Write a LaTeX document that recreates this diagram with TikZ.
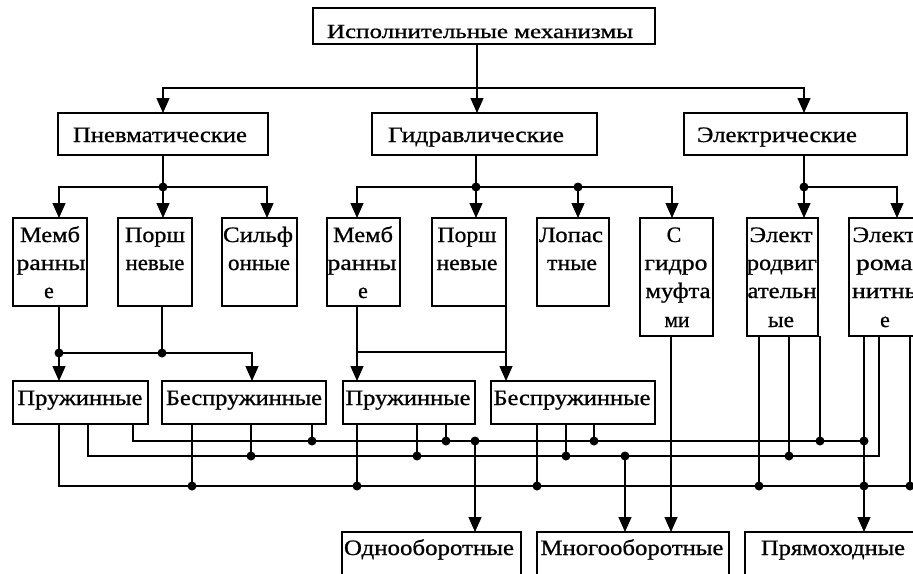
\documentclass[tikz,border=0pt]{standalone}
\usepackage{fontspec}
\setmainfont{Liberation Serif}[FakeBold=0.8]
\usetikzlibrary{arrows.meta}

% a word set at its own height, stretched across a given width
\newcommand\stretchto[2]{\resizebox{#1pt}{\height}{#2}}
% box: name, left, top, width, height
\newcommand\bx[5]{\node[box, minimum width=#4pt, minimum height=#5pt] (#1) at (#2,#3) {};}
% text line: name, centre x, baseline y, width, text
\newcommand\tx[5]{\node[lbl] (#1) at (#2,#3) {\stretchto{#4}{#5}};}
% text line at its natural width: name, centre x, baseline y, text
\newcommand\txn[4]{\node[lbl] (#1) at (#2,#3) {#4};}
% junction dot on a bus, fed from the bottom of a box: name, x, y, box
\newcommand\tap[4]{\node[jdot] (#1) at (#2,#3) {}; \draw[wire] (#4.south -| #1) -- (#1.center);}

\tikzset{
  box/.style={draw, line width=1.3pt, inner sep=0pt, outer sep=0pt, anchor=north west},
  lbl/.style={inner sep=0pt, outer sep=0pt, anchor=base, font=\fontsize{22}{26}\selectfont},
  toplbl/.style={lbl, font=\fontsize{20}{24}\selectfont},
  wire/.style={line width=1.3pt},
  arr/.style={wire, -{Triangle[width=13pt,length=15pt]}},
  jdot/.style={circle, fill, draw=none, inner sep=0pt, minimum size=9pt},
}

\begin{document}
\begin{tikzpicture}[x=1pt, y=-1pt]
\useasboundingbox (0,0) rectangle (913,573);
\clip (0,0) rectangle (913,573);

% ---- boxes ----
\bx{top}{313}{8}{342}{36}
\bx{pn}{58}{113}{210}{42}
\bx{gd}{372}{113}{225}{42}
\bx{el}{684}{113}{223}{42}

\bx{m1}{13}{218}{74}{88}
\bx{p1}{118}{218}{74}{88}
\bx{s1}{222}{218}{75}{88}
\bx{m2}{327}{218}{73}{88}
\bx{p2}{432}{218}{74}{88}
\bx{lo}{537}{218}{72}{88}
\bx{sg}{640}{218}{73}{118}
\bx{ed}{747}{218}{71}{118}
\bx{em}{849}{218}{72}{118}

\bx{pr1}{13}{381}{135}{43}
\bx{bp1}{162}{381}{164}{43}
\bx{pr2}{343}{381}{132}{43}
\bx{bp2}{491}{381}{164}{43}

\bx{od}{342}{532}{179}{60}
\bx{mn}{537}{532}{192}{60}
\bx{pm}{745}{532}{200}{60}

% ---- texts ----
\node[toplbl] (ttop) at (480,38) {\stretchto{306}{Исполнительные механизмы}};
\tx{tpn}{160}{142}{174}{Пневматические}
\tx{tgd}{476}{142}{176}{Гидравлические}
\tx{tel}{777}{142}{160}{Электрические}

\tx{m1a}{50}{242}{60}{Мемб}
\tx{m1b}{51}{270}{69}{ранны}
\txn{m1c}{49}{298}{е}
\tx{p1a}{155}{242}{60}{Порш}
\tx{p1b}{155}{270}{59}{невые}
\tx{s1a}{258}{242}{70}{Сильф}
\tx{s1b}{259}{270}{62}{онные}
\tx{m2a}{363}{242}{60}{Мемб}
\tx{m2b}{362}{270}{69}{ранны}
\txn{m2c}{363}{298}{е}
\tx{p2a}{467}{242}{59}{Порш}
\tx{p2b}{467}{270}{61}{невые}
\tx{loa}{571}{242}{64}{Лопас}
\tx{lob}{572}{270}{50}{тные}
\txn{sga}{674}{242}{С}
\tx{sgb}{676}{270}{63}{гидро}
\tx{sgc}{678}{298}{65}{муфта}
\tx{sgd}{677}{327}{25}{ми}
\tx{eda}{781}{242}{63}{Элект}
\tx{edb}{782}{270}{70}{родвиг}
\tx{edc}{782}{298}{69}{ательн}
\tx{edd}{781}{327}{26}{ые}
\tx{ema}{884}{242}{63}{Элект}
\tx{emb}{890}{270}{68}{ромаг}
\tx{emc}{887}{298}{70}{нитны}
\txn{emd}{885}{327}{е}

\tx{tpr1}{80}{405}{125}{Пружинные}
\tx{tbp1}{244}{405}{156}{Беспружинные}
\tx{tpr2}{408}{405}{125}{Пружинные}
\tx{tbp2}{572}{405}{157}{Беспружинные}

\tx{tod}{429}{555}{170}{Однооборотные}
\tx{tmn}{632}{555}{183}{Многооборотные}
\tx{tpm}{833}{555}{144}{Прямоходные}

% ---- first split: kinds of drive ----
\coordinate (j0) at (477,88);
\coordinate (j0l) at (163,88);
\coordinate (j0r) at (804,88);
\draw[arr] (top.south -| j0) -- (j0 |- gd.north);
\draw[arr] (j0) -- (j0l) -- (j0l |- pn.north);
\draw[arr] (j0) -- (j0r) -- (j0r |- el.north);

% ---- pneumatic designs ----
\node[jdot] (k1) at (163,187) {};
\coordinate (k1l) at (59,187);
\coordinate (k1r) at (267,187);
\draw[wire] (pn.south -| k1) -- (k1.center);
\draw[arr] (k1.center) -- (k1 |- p1.north);
\draw[arr] (k1.center) -- (k1l) -- (k1l |- m1.north);
\draw[arr] (k1.center) -- (k1r) -- (k1r |- s1.north);

% ---- hydraulic designs ----
\node[jdot] (k2) at (476,187) {};
\node[jdot] (k2m) at (578,187) {};
\coordinate (k2l) at (357,187);
\coordinate (k2r) at (672,187);
\draw[wire] (gd.south -| k2) -- (k2.center);
\draw[arr] (k2.center) -- (k2 |- p2.north);
\draw[arr] (k2m.center) -- (k2m |- lo.north);
\draw[arr] (k2.center) -- (k2l) -- (k2l |- m2.north);
\draw[arr] (k2.center) -- (k2r) -- (k2r |- sg.north);

% ---- electric designs ----
\node[jdot] (k3) at (804,187) {};
\coordinate (k3r) at (897,187);
\draw[wire] (el.south -| k3) -- (k3.center);
\draw[arr] (k3.center) -- (k3 |- ed.north);
\draw[arr] (k3.center) -- (k3r) -- (k3r |- em.north);

% ---- pneumatic: spring / springless ----
\node[jdot] (q1) at (59,353) {};
\node[jdot] (q1m) at (162,353) {};
\coordinate (q1r) at (252,353);
\draw[wire] (m1.south -| q1) -- (q1.center);
\draw[wire] (p1.south -| q1m) -- (q1m.center);
\draw[arr] (q1.center) -- (q1 |- pr1.north);
\draw[arr] (q1.center) -- (q1r) -- (q1r |- bp1.north);

% ---- hydraulic: spring / springless ----
\coordinate (q2) at (357,352);
\coordinate (q2r) at (506,352);
\draw[arr] (m2.south -| q2) -- (q2 |- pr2.north);
\draw[arr] (p2.south -| q2r) -- (q2r |- bp2.north);
\draw[wire] (q2) -- (q2r);

% ---- output buses ----
\coordinate (TL) at (133,441);
\coordinate (ML) at (88,456);
\coordinate (MR) at (879,456);
\coordinate (BL) at (59,486);
\coordinate (BR) at (940,486);
\node[jdot] (eT) at (864,441) {};
\node[jdot] (eB) at (864,486) {};
\draw[wire] (pr1.south -| TL) -- (TL) -- (eT.center);
\draw[wire] (pr1.south -| ML) -- (ML) -- (MR) -- (em.south -| MR);
\draw[wire] (pr1.south -| BL) -- (BL) -- (BR);

% taps onto the buses
\tap{a1}{192}{486}{bp1}
\tap{a2}{251}{456}{bp1}
\tap{a3}{312}{441}{bp1}
\tap{b1}{357}{486}{pr2}
\tap{b2}{417}{456}{pr2}
\tap{b3}{446}{441}{pr2}
\tap{c1}{537}{486}{bp2}
\tap{c2}{566}{456}{bp2}
\tap{c3}{594}{441}{bp2}
\tap{d1}{759}{486}{ed}
\tap{d2}{789}{456}{ed}
\tap{d3}{820}{441}{ed}
\tap{e3}{910}{486}{em}

% ---- to the outputs ----
\node[jdot] (oT) at (475,441) {};
\node[jdot] (oM) at (625,456) {};
\coordinate (sgx) at (671,0);
\draw[arr] (oT.center) -- (oT |- od.north);
\draw[arr] (oM.center) -- (oM |- mn.north);
\draw[arr] (sg.south -| sgx) -- (mn.north -| sgx);
\draw[arr] (em.south -| eT) -- (pm.north -| eT);
\end{tikzpicture}
\end{document}
